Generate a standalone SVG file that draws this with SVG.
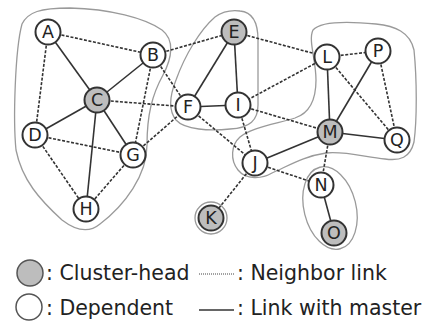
<svg xmlns="http://www.w3.org/2000/svg" width="432" height="323" viewBox="0 0 432 323">
<style>
.hull{fill:none;stroke:#9a9a9a;stroke-width:1.3}
.s{stroke:#333;stroke-width:1.6;fill:none}
.d{stroke:#333;stroke-width:1.6;stroke-dasharray:3 1.6;fill:none}
.n{fill:#fff;stroke:#333;stroke-width:2}
.h{fill:#bdbdbd;stroke:#333;stroke-width:2}
.t{font-family:"DejaVu Sans",sans-serif;font-size:17.5px;fill:#222;text-anchor:middle}
.lg{font-family:"DejaVu Sans",sans-serif;font-size:20.5px;fill:#222}
</style>
<g id="clusters">
<path class="hull" d="M22,24 C28,12 40,8 70,8 C110,9 145,18 162,30 C175,40 172,58 163,75 C152,95 147,115 147,145 C147,175 125,205 100,224 C88,234 75,230 62,220 C40,200 22,180 16,150 C13,120 15,50 22,24 Z"/>
<path class="hull" d="M240,11 C252,12 258,22 258,40 L258,105 C258,120 250,128 230,129 C210,131 185,130 176,120 C168,110 170,95 176,80 C185,55 200,30 215,17 C222,12 232,10 240,11 Z"/>
<path class="hull" d="M313,30 C320,22 345,21 376,24 C395,26 410,32 414,50 C417,80 417,120 414,142 C410,158 400,161 385,159 C365,157 345,151 326,153 C305,156 290,165 272,173 C262,179 246,180 238,170 C230,160 231,145 240,137 C250,128 275,124 295,118 C310,113 316,100 316,80 C316,60 308,40 313,30 Z"/>
<ellipse class="hull" cx="330" cy="208" rx="26" ry="42" transform="rotate(-14 330 208)"/>
<circle class="hull" cx="211" cy="218" r="16"/>
</g>
<g id="connectors">
<line class="d" x1="48" y1="32" x2="153" y2="55"/>
<line class="d" x1="48" y1="32" x2="35" y2="135"/>
<line class="s" x1="48" y1="32" x2="97" y2="100"/>
<line class="s" x1="153" y1="55" x2="97" y2="100"/>
<line class="d" x1="153" y1="55" x2="133" y2="155"/>
<line class="d" x1="153" y1="55" x2="188" y2="107"/>
<line class="d" x1="153" y1="55" x2="234" y2="32"/>
<line class="s" x1="97" y1="100" x2="35" y2="135"/>
<line class="s" x1="97" y1="100" x2="133" y2="155"/>
<line class="s" x1="97" y1="100" x2="86" y2="209"/>
<line class="d" x1="97" y1="100" x2="188" y2="107"/>
<line class="d" x1="35" y1="135" x2="133" y2="155"/>
<line class="d" x1="35" y1="135" x2="86" y2="209"/>
<line class="d" x1="133" y1="155" x2="86" y2="209"/>
<line class="d" x1="133" y1="155" x2="188" y2="107"/>
<line class="s" x1="234" y1="32" x2="188" y2="107"/>
<line class="s" x1="234" y1="32" x2="238" y2="105"/>
<line class="s" x1="188" y1="107" x2="238" y2="105"/>
<line class="d" x1="234" y1="32" x2="327" y2="57"/>
<line class="d" x1="327" y1="57" x2="378" y2="51"/>
<line class="d" x1="327" y1="57" x2="238" y2="105"/>
<line class="d" x1="327" y1="57" x2="397" y2="140"/>
<line class="d" x1="378" y1="51" x2="397" y2="140"/>
<line class="s" x1="327" y1="57" x2="330" y2="132"/>
<line class="s" x1="378" y1="51" x2="330" y2="132"/>
<line class="s" x1="330" y1="132" x2="397" y2="140"/>
<line class="d" x1="238" y1="105" x2="330" y2="132"/>
<line class="d" x1="238" y1="105" x2="255" y2="163"/>
<line class="d" x1="188" y1="107" x2="255" y2="163"/>
<line class="s" x1="255" y1="163" x2="330" y2="132"/>
<line class="d" x1="255" y1="163" x2="211" y2="218"/>
<line class="d" x1="255" y1="163" x2="321" y2="185"/>
<line class="d" x1="330" y1="132" x2="321" y2="185"/>
<line class="s" x1="321" y1="185" x2="334" y2="233"/>
</g>
<g id="A"><circle class="n" cx="48" cy="32" r="12.5"/><text class="t" x="48" y="38">A</text></g>
<g id="B"><circle class="n" cx="153" cy="55" r="12.5"/><text class="t" x="153" y="61">B</text></g>
<g id="C"><circle class="h" cx="97" cy="100" r="12.5"/><text class="t" x="97" y="106">C</text></g>
<g id="D"><circle class="n" cx="35" cy="135" r="12.5"/><text class="t" x="35" y="141">D</text></g>
<g id="E"><circle class="h" cx="234" cy="32" r="12.5"/><text class="t" x="234" y="38">E</text></g>
<g id="F"><circle class="n" cx="188" cy="107" r="12.5"/><text class="t" x="188" y="113">F</text></g>
<g id="G"><circle class="n" cx="133" cy="155" r="12.5"/><text class="t" x="133" y="161">G</text></g>
<g id="H"><circle class="n" cx="86" cy="209" r="12.5"/><text class="t" x="86" y="215">H</text></g>
<g id="I"><circle class="n" cx="238" cy="105" r="12.5"/><text class="t" x="238" y="111">I</text></g>
<g id="J"><circle class="n" cx="255" cy="163" r="12.5"/><text class="t" x="255" y="169">J</text></g>
<g id="K"><circle class="h" cx="211" cy="218" r="12.5"/><text class="t" x="211" y="224">K</text></g>
<g id="L"><circle class="n" cx="327" cy="57" r="12.5"/><text class="t" x="327" y="63">L</text></g>
<g id="M"><circle class="h" cx="330" cy="132" r="12.5"/><text class="t" x="330" y="138">M</text></g>
<g id="N"><circle class="n" cx="321" cy="185" r="12.5"/><text class="t" x="321" y="191">N</text></g>
<g id="O"><circle class="h" cx="334" cy="233" r="12.5"/><text class="t" x="334" y="239">O</text></g>
<g id="P"><circle class="n" cx="378" cy="51" r="12.5"/><text class="t" x="378" y="57">P</text></g>
<g id="Q"><circle class="n" cx="397" cy="140" r="12.5"/><text class="t" x="397" y="146">Q</text></g>
<g id="legend">
<circle cx="30" cy="273" r="13" fill="#bdbdbd" stroke="#555" stroke-width="1.5"/>
<text class="lg" x="46" y="280">: Cluster-head</text>
<line x1="199" y1="274" x2="234" y2="274" stroke="#444" stroke-width="1.2" stroke-dasharray="1 1"/>
<text class="lg" x="237" y="280">: Neighbor link</text>
<circle cx="29" cy="307" r="13" fill="#fff" stroke="#555" stroke-width="1.5"/>
<text class="lg" x="46" y="315">: Dependent</text>
<line x1="199" y1="310" x2="234" y2="310" stroke="#333" stroke-width="1.5"/>
<text class="lg" x="237" y="315">: Link with master</text>
</g>
</svg>
